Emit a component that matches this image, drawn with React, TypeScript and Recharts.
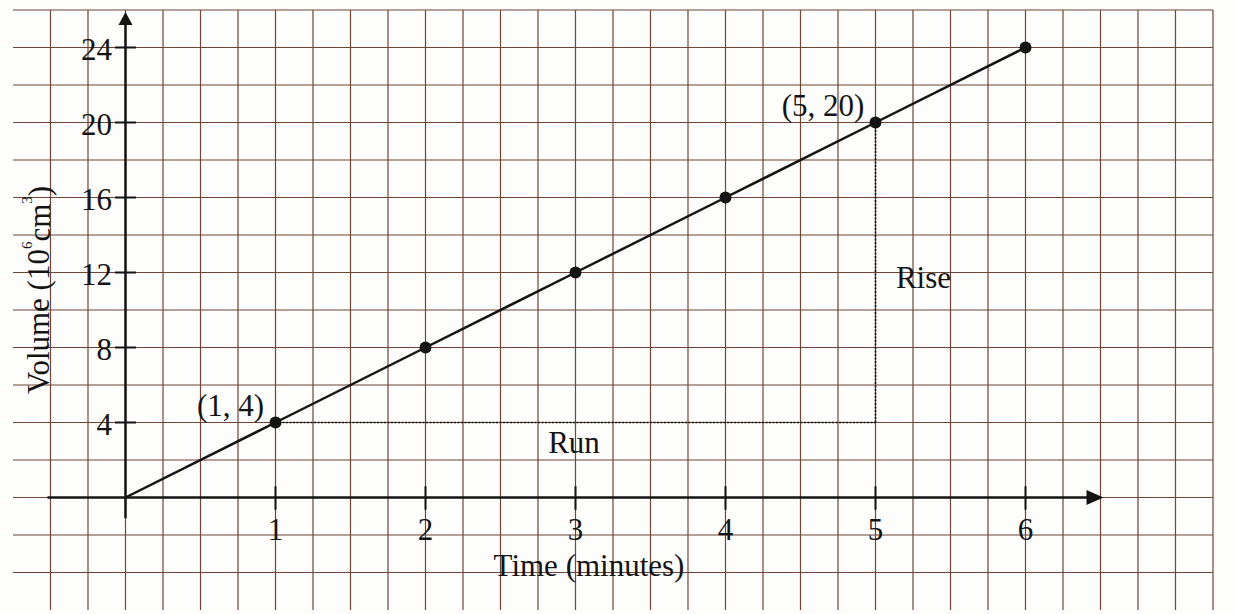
import React from 'react';
import {
  ComposedChart,
  Line,
  XAxis,
  YAxis,
  CartesianGrid,
  ReferenceLine,
  ReferenceDot,
} from 'recharts';

// readings plotted on the graph paper
const times = [0, 1, 2, 3, 4, 5, 6];
const volumes = [0, 4, 8, 12, 16, 20, 24];

// numbered ticks on each axis
const xTicks = [1, 2, 3, 4, 5, 6];
const yTicks = [4, 8, 12, 16, 20, 24];

// graph paper extent: one square = 0.25 min across, 2 units up
const X_MIN = -0.75;
const X_MAX = 7.25;
const X_STEP = 0.25;
const Y_MIN = -6;
const Y_MAX = 26;
const Y_STEP = 2;

const data = times.map((t, i) => ({ t, v: volumes[i] }));

const range = (from: number, to: number, step: number) => {
  const out: number[] = [];
  for (let k = 0; from + k * step <= to + 1e-9; k++) out.push(from + k * step);
  return out;
};

const FONT = '"Liberation Serif", "Times New Roman", serif';
const FONT_SIZE = 31;
const INK = '#141414';
const PAPER = '#6e4536';

// texto anclado en coordenadas de datos (usa el viewBox del ReferenceDot)
function tag(text: string, anchor: 'start' | 'middle' | 'end' = 'middle') {
  return (props: any) => {
    const { x, y } = props.viewBox ?? {};
    return (
      <text
        x={x}
        y={y}
        textAnchor={anchor}
        dominantBaseline="central"
        fontFamily={FONT}
        fontSize={FONT_SIZE}
        fill={INK}
      >
        {text}
      </text>
    );
  };
}

const volumeTitle = (props: any) => {
  const { x, y } = props.viewBox ?? {};
  return (
    <text
      x={x}
      y={y}
      transform={`rotate(-90 ${x} ${y})`}
      textAnchor="middle"
      dominantBaseline="central"
      fontFamily={FONT}
      fontSize={FONT_SIZE}
      fill={INK}
    >
      Volume (10
      <tspan fontSize={15} dy={-12}>6</tspan>
      <tspan dy={12}>cm</tspan>
      <tspan fontSize={15} dy={-12}>3</tspan>
      <tspan dy={12}>)</tspan>
    </text>
  );
};

const arrowUp = (p: any) => (
  <polygon
    points={`${p.cx},${p.cy} ${p.cx - 7},${p.cy + 13} ${p.cx + 7},${p.cy + 13}`}
    fill={INK}
  />
);

const arrowRight = (p: any) => (
  <polygon
    points={`${p.cx},${p.cy} ${p.cx - 17},${p.cy - 7.5} ${p.cx - 17},${p.cy + 7.5}`}
    fill={INK}
  />
);

export default function App() {
  return (
    <div
      style={{
        position: 'absolute',
        left: 0,
        top: 0,
        width: 1235,
        height: 614,
        background: '#fdfdfb',
      }}
    >
      <ComposedChart
        width={1235}
        height={614}
        data={data}
        margin={{ top: 10, right: 22, bottom: 4, left: 13 }}
      >
        <XAxis dataKey="t" type="number" domain={[X_MIN, X_MAX]} hide />
        <YAxis type="number" domain={[Y_MIN, Y_MAX]} hide />
        <CartesianGrid
          verticalValues={range(X_MIN, X_MAX, X_STEP)}
          horizontalValues={range(Y_MIN, Y_MAX, Y_STEP)}
          stroke={PAPER}
          strokeWidth={1.2}
        />

        {/* ejes dibujados sobre el papel */}
        <ReferenceLine
          segment={[{ x: 0, y: -1.1 }, { x: 0, y: 25.2 }]}
          stroke={INK}
          strokeWidth={2.5}
        />
        <ReferenceLine
          segment={[{ x: -0.52, y: 0 }, { x: 6.41, y: 0 }]}
          stroke={INK}
          strokeWidth={2.5}
        />
        <ReferenceDot x={0} y={25.9} r={0} shape={arrowUp} ifOverflow="visible" />
        <ReferenceDot x={6.52} y={0} r={0} shape={arrowRight} ifOverflow="visible" />

        {xTicks.map((t) => (
          <ReferenceLine
            key={`xt-${t}`}
            segment={[{ x: t, y: 0.6 }, { x: t, y: -0.65 }]}
            stroke={INK}
            strokeWidth={2}
          />
        ))}
        {yTicks.map((v) => (
          <ReferenceLine
            key={`yt-${v}`}
            segment={[{ x: -0.07, y: v }, { x: 0.07, y: v }]}
            stroke={INK}
            strokeWidth={2}
          />
        ))}
        {xTicks.map((t) => (
          <ReferenceDot key={`xl-${t}`} x={t} y={-1.73} r={0} label={tag(String(t))} ifOverflow="visible" />
        ))}
        {yTicks.map((v) => (
          <ReferenceDot key={`yl-${v}`} x={-0.09} y={v - 0.12} r={0} label={tag(String(v), 'end')} ifOverflow="visible" />
        ))}

        <ReferenceDot x={3.09} y={-3.6} r={0} label={tag('Time (minutes)')} ifOverflow="visible" />
        <ReferenceDot x={-0.58} y={11.07} r={0} label={volumeTitle} ifOverflow="visible" />

        {/* triángulo rise / run */}
        <ReferenceLine
          segment={[{ x: 1, y: 4 }, { x: 5, y: 4 }]}
          stroke={INK}
          strokeWidth={1.6}
          strokeDasharray="2 1.5"
        />
        <ReferenceLine
          segment={[{ x: 5, y: 4 }, { x: 5, y: 20 }]}
          stroke={INK}
          strokeWidth={1.6}
          strokeDasharray="2 1.5"
        />

        <Line
          dataKey="v"
          type="linear"
          stroke={INK}
          strokeWidth={2.5}
          isAnimationActive={false}
          dot={(p: any) =>
            p.payload.t === 0 ? (
              <g key={`d-${p.index}`} />
            ) : (
              <circle key={`d-${p.index}`} cx={p.cx} cy={p.cy} r={6} fill={INK} />
            )
          }
          activeDot={false}
        />

        <ReferenceDot x={0.7} y={4.93} r={0} label={tag('(1, 4)')} ifOverflow="visible" />
        <ReferenceDot x={4.65} y={20.93} r={0} label={tag('(5, 20)')} ifOverflow="visible" />
        <ReferenceDot x={2.99} y={2.91} r={0} label={tag('Run')} ifOverflow="visible" />
        <ReferenceDot x={5.32} y={11.76} r={0} label={tag('Rise')} ifOverflow="visible" />
      </ComposedChart>
    </div>
  );
}
